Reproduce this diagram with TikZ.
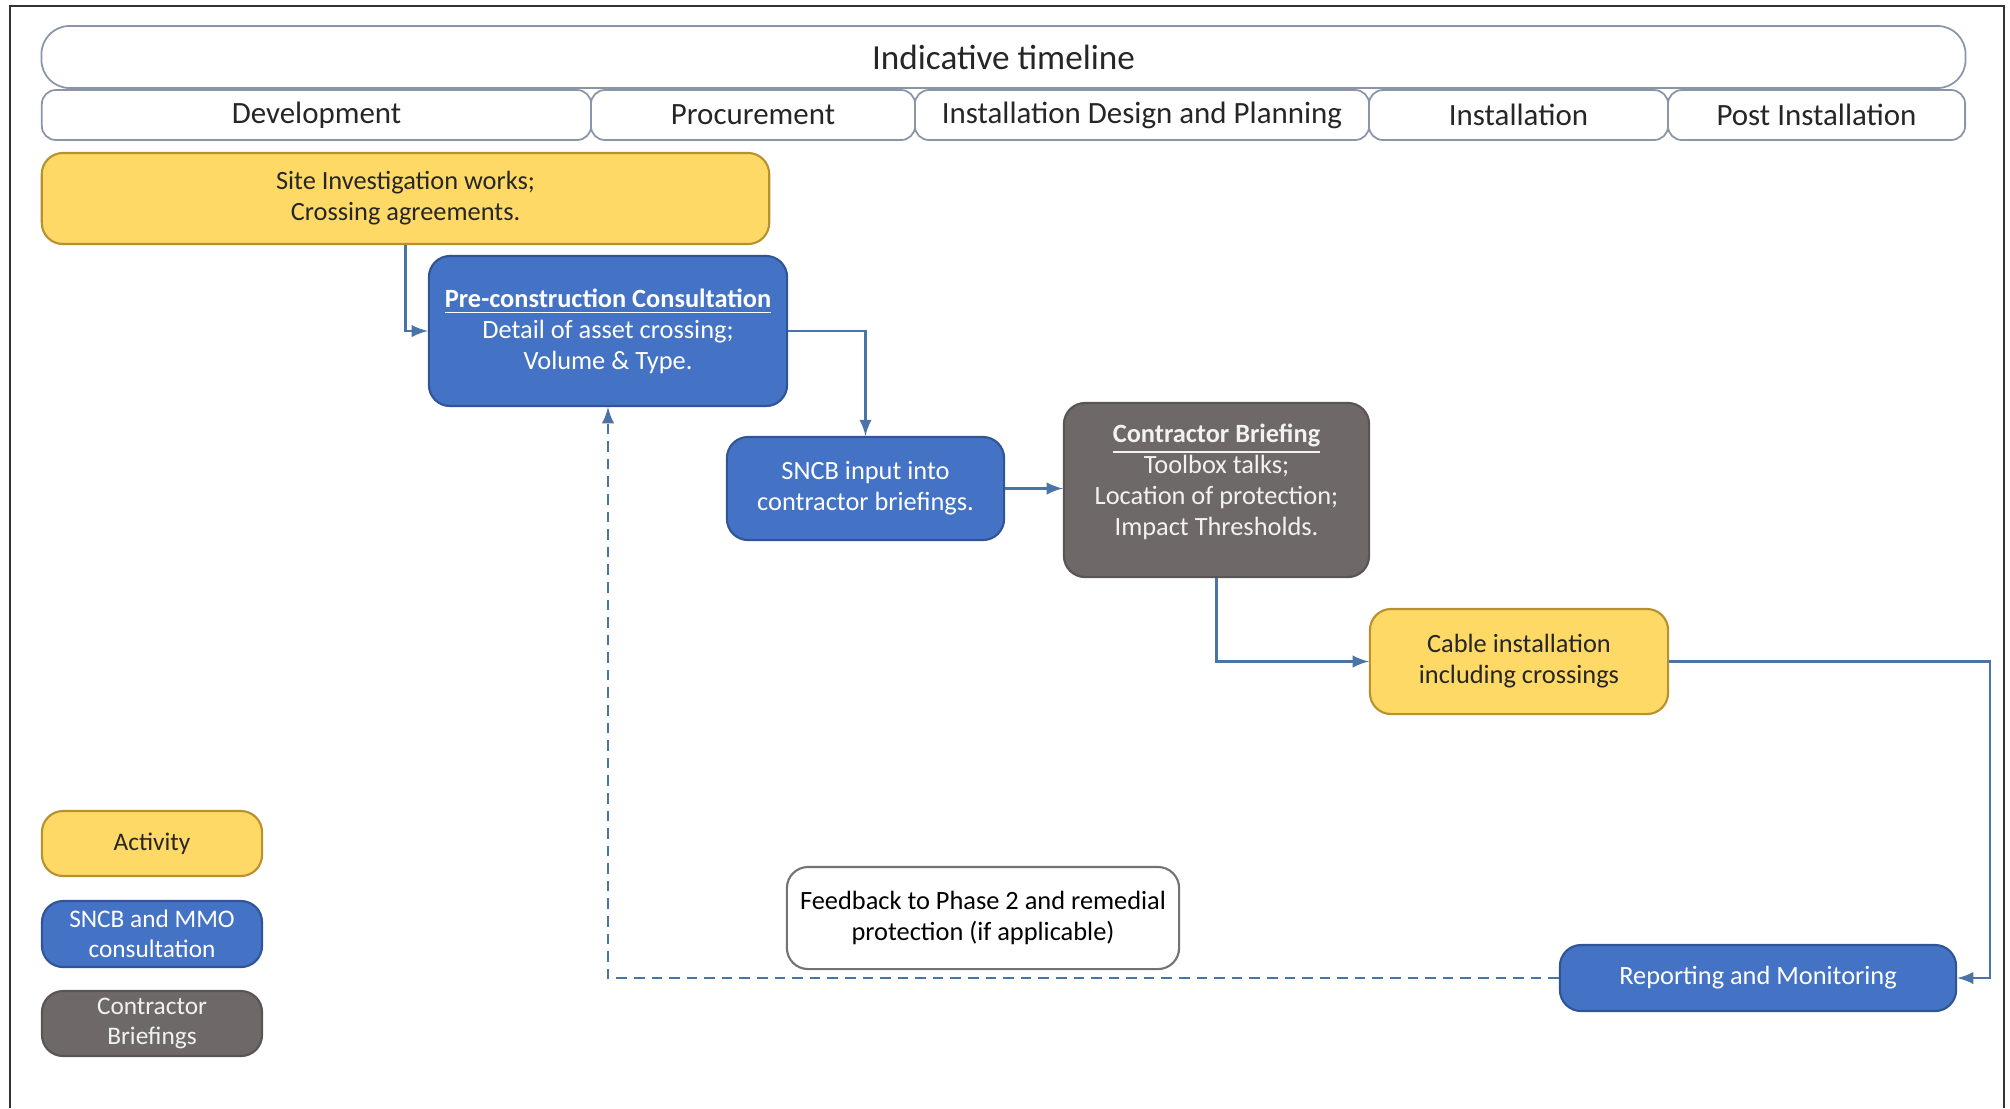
\documentclass[tikz,border=0pt]{standalone}
\usepackage{fontspec}
\setmainfont{Carlito}
\usepackage{tikz}
\definecolor{actfill}{HTML}{FFD966}
\definecolor{actdraw}{HTML}{B8912E}
\definecolor{conblue}{HTML}{4472C4}
\definecolor{condraw}{HTML}{2F5597}
\definecolor{brfgray}{HTML}{6E6868}
\definecolor{brfdraw}{HTML}{5A5455}
\definecolor{linkcol}{HTML}{4A74A6}
\definecolor{headdraw}{HTML}{8A96A8}
\tikzset{%
  base/.style     = {rounded corners=6pt, inner sep=0pt, align=center, line width=0.6pt,
                     font=\fontsize{7.5}{8.8}\selectfont},
  activity/.style = {base, fill=actfill, draw=actdraw, text=black!85},
  consult/.style  = {base, fill=conblue, draw=condraw, text=white},
  briefing/.style = {base, fill=brfgray, draw=brfdraw, text=white!95!black},
  note/.style     = {base, fill=white, draw=black!55},
  header/.style   = {rounded corners=4pt, inner sep=0pt, draw=headdraw, line width=0.5pt,
                     fill=white, text=black!85},
  phase/.style    = {header, minimum height=0.5cm, font=\fontsize{8.8}{10}\selectfont},
  flow/.style     = {draw=linkcol, line width=0.6pt, -latex},
  feedback/.style = {flow, dash pattern=on 3pt off 2pt}}
\begin{document}
\begin{tikzpicture}[x=0.01cm, y=-0.01cm]
  \useasboundingbox (0,0) rectangle (2010,1108);
  \draw[black!80, line width=0.8pt] (10,1108) -- (10,6) -- (2004,6) -- (2004,1108);

  % timeline header
  \node[header, minimum width=19.23cm, minimum height=0.62cm, rounded corners=8pt,
        font=\fontsize{10}{12}\selectfont] (timeline) at (1003.5,57) {Indicative timeline};
  \node[phase, minimum width=5.49cm] (dev)  at (316.5,115)  {Development};
  \node[phase, minimum width=3.24cm] (proc) at (753,115)    {Procurement};
  \node[phase, minimum width=4.54cm] (idp)  at (1142,115)   {Installation Design and Planning};
  \node[phase, minimum width=2.99cm] (inst) at (1518.5,115) {Installation};
  \node[phase, minimum width=2.97cm] (post) at (1816.5,115) {Post Installation};

  % process boxes
  \node[activity, minimum width=7.27cm, minimum height=0.91cm] (site) at (405.5,198.5)
       {Site Investigation works;\\ Crossing agreements.};
  \node[consult, minimum width=3.58cm, minimum height=1.50cm] (pre) at (608,331)
       {\underline{\textbf{Pre-construction Consultation}}\\ Detail of asset crossing;\\ Volume \& Type.};
  \node[consult, minimum width=2.77cm, minimum height=1.03cm] (sncb) at (865.5,488.5)
       {SNCB input into\\ contractor briefings.};
  \node[briefing, minimum width=3.05cm, minimum height=1.74cm] (brief) at (1216.5,490)
       {\underline{\textbf{Contractor Briefing}}\\ Toolbox talks;\\ Location of protection;\\ Impact Thresholds.\\[-3pt]};
  \node[activity, minimum width=2.98cm, minimum height=1.05cm] (cable) at (1519,661.5)
       {Cable installation\\ including crossings};
  \node[consult, minimum width=3.96cm, minimum height=0.66cm] (report) at (1758,978)
       {Reporting and Monitoring};
  \node[note, minimum width=3.92cm, minimum height=1.02cm] (fback) at (983,918)
       {Feedback to Phase 2 and remedial\\ protection (if applicable)};

  % legend
  \node[activity, minimum width=2.2cm, minimum height=0.65cm, font=\fontsize{7.2}{8.6}\selectfont]
       (keyact) at (152,843.5) {Activity};
  \node[consult, minimum width=2.2cm, minimum height=0.66cm, font=\fontsize{7.2}{8.6}\selectfont]
       (keycon) at (152,934) {SNCB and MMO\\ consultation};
  \node[briefing, minimum width=2.2cm, minimum height=0.65cm, font=\fontsize{7.2}{8.6}\selectfont]
       (keybrf) at (152,1023.5) {Contractor\\ Briefings};

  % connectors
  \coordinate (turn) at (1990,661.5);
  \draw[flow] (site.south) |- (pre.west);
  \draw[flow] (pre.east) -| (sncb.north);
  \draw[flow] (sncb.east) -- (sncb.east -| brief.west);
  \draw[flow] (brief.south) |- (cable.west);
  \draw[flow] (cable.east) -- (turn) |- (report.east);
  \draw[feedback] (report.west) -| (pre.south);
\end{tikzpicture}
\end{document}
